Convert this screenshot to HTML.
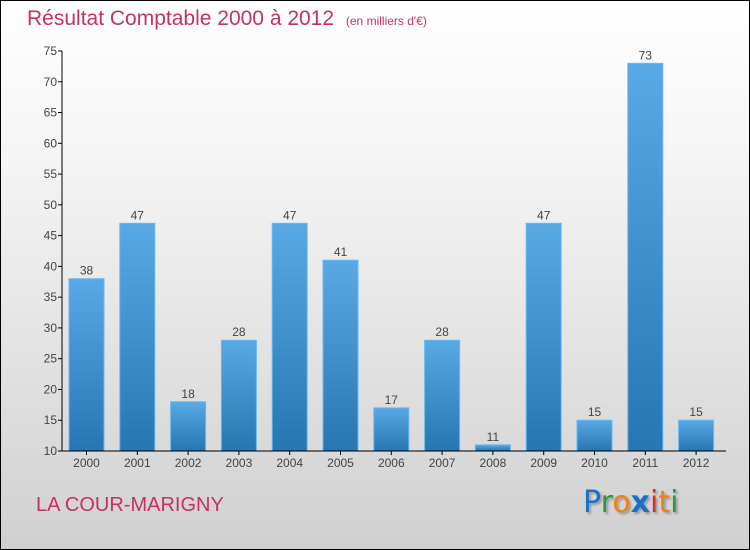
<!DOCTYPE html>
<html><head><meta charset="utf-8">
<style>
body{margin:0;}
#wrap{position:relative;width:748px;height:548px;border:1px solid #000;background:linear-gradient(#ffffff,#f4f4f4 30%,#d0d0d0);overflow:hidden;font-family:"Liberation Sans",sans-serif;}
.t{position:absolute;white-space:nowrap;}
</style></head><body>
<div id="wrap">
<div class="t" style="left:26px;top:6px;font-size:21px;color:#c8305f;">Résultat Comptable 2000 à 2012 <span style="font-size:12px;margin-left:6px;">(en milliers d'€)</span></div>
<svg id="chart" width="748" height="548" style="position:absolute;left:0;top:0;">
<defs><linearGradient id="bg" x1="0" y1="0" x2="0" y2="1"><stop offset="0" stop-color="#58a9e6"/><stop offset="1" stop-color="#2776b4"/></linearGradient></defs>
</svg>
<div class="t" style="left:35px;top:493px;font-size:20px;color:#c8305f;">LA COUR-MARIGNY</div>
<div class="t" style="left:582px;top:484px;font-size:30px;font-family:'DejaVu Sans',sans-serif;text-shadow:2px 2px 2px #999;"><span style="color:#1a6fc9">P</span><span style="color:#2a9a3a">r</span><span style="color:#f08010">o</span><span style="color:#1a6fc9;font-weight:bold">x</span><span style="color:#e02a20">i</span><span style="color:#f08010">t</span><span style="color:#2a9a3a">i</span></div>
</div>
<script>
const categories=["2000","2001","2002","2003","2004","2005","2006","2007","2008","2009","2010","2011","2012"];
const values=[38,47,18,28,47,41,17,28,11,47,15,73,15];
const yTicks=[10,15,20,25,30,35,40,45,50,55,60,65,70,75];
const svg=document.getElementById('chart');
const NS='http://www.w3.org/2000/svg';
const y0=450,y1=50,vmin=10,vmax=75,axX=61;
const y=v=>y0-(v-vmin)/(vmax-vmin)*(y0-y1);
const x=i=>85.5+i*50.8;
function mk(t,a){const e=document.createElementNS(NS,t);for(const k in a)e.setAttribute(k,a[k]);svg.appendChild(e);return e;}
yTicks.forEach(v=>{
 const l=mk('line',{x1:axX-4,x2:axX,y1:y(v),y2:y(v),stroke:'#000'});
 
 
 const t=mk('text',{x:axX-5,y:y(v)+4,'text-anchor':'end','font-size':12,fill:'#444','font-family':'Liberation Sans'});
 t.textContent=v;
 
 
});
categories.forEach((c,i)=>{
 const v=values[i];
 const r=mk('rect',{x:x(i)-17.5,y:y(v),width:35,height:y0-y(v),fill:'url(#bg)',stroke:'#6bb8ee','stroke-width':1});
 
 
 const t=mk('text',{x:x(i),y:y(v)-4,'text-anchor':'middle','font-size':12,fill:'#444','font-family':'Liberation Sans'});
 t.textContent=v;
 
 
 const tk=mk('line',{x1:x(i),x2:x(i),y1:y0,y2:y0+4,stroke:'#000'});
 
 
 const xl=mk('text',{x:x(i),y:y0+16,'text-anchor':'middle','font-size':12,fill:'#444','font-family':'Liberation Sans'});
 xl.textContent=c;
 
 
});
const ya=mk('line',{x1:axX,x2:axX,y1:y1,y2:y0,stroke:'#000'});


const xa=mk('line',{x1:axX,x2:725,y1:y0,y2:y0,stroke:'#000'});


</script>
</body></html>
